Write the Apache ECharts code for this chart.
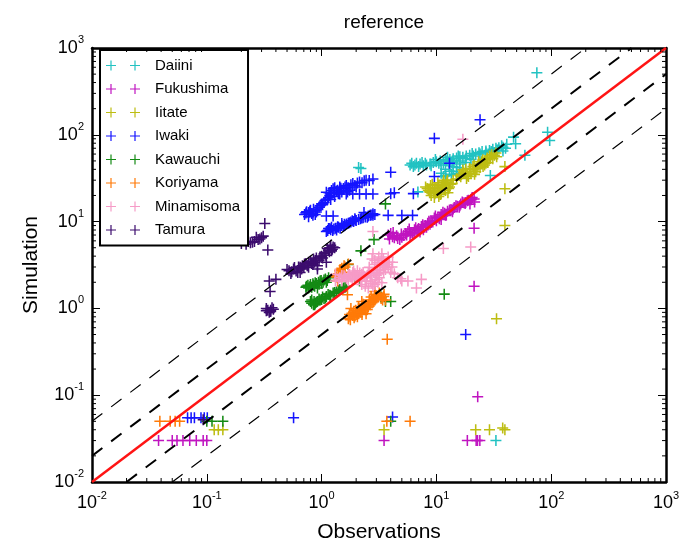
<!DOCTYPE html>
<html>
<head>
<meta charset="utf-8">
<script src="https://cdn.jsdelivr.net/npm/echarts@6/dist/echarts.min.js"></script>
<style>
  html, body { margin: 0; padding: 0; background: #fff; }
  #chart { width: 689px; height: 548px; }
</style>
</head>
<body>
<div id="chart"></div>
<script>
// axis range (log10)
const AX_MIN = 0.01
const AX_MAX = 1000

const siteNames = ['Daiini', 'Fukushima', 'Iitate', 'Iwaki', 'Kawauchi', 'Koriyama', 'Minamisoma', 'Tamura']
const siteColors = ['#22c2c2', '#c014c0', '#bdbd12', '#1414ff', '#148a14', '#ff7a08', '#f69bc7', '#3c0c6e']

// [observation, simulation]
const daiini = [
  [75, 520], [93, 107], [97, 86], [49, 79], [59, 58], [2.1, 42], [2.2, 41], [33, 0.03], [6.9, 22],
  [5.9, 45], [6.7, 47], [7.7, 44], [8.8, 46], [10, 49], [11.5, 47], [13.1, 52], [15, 54], [17, 55], [19.5, 58],
  [22, 60], [25, 64], [29, 66], [33, 70], [38, 72], [41, 78],
  [6.3, 43], [7.2, 46], [8.2, 45], [9.4, 48], [10.8, 50], [12.3, 50], [14, 53], [16, 56], [18.2, 57], [20.5, 61],
  [23.5, 62], [27, 65], [31, 68], [35, 71],
  [11, 36], [12, 40], [13, 45], [14, 38], [15, 42], [16, 50], [12.5, 55], [11.5, 33], [13.5, 35], [17, 40],
  [29.5, 34], [38, 65], [47, 94],
  [6.1, 47], [7.0, 43], [8.0, 47], [9.0, 44], [10.5, 47], [12, 52], [13.8, 50], [15.5, 57], [18, 53], [21, 57],
  [24, 60], [27, 62], [30, 64], [34, 67], [37, 75], [40, 70], [6.5, 45], [7.5, 48], [9.8, 52], [11, 45], [14, 43],
  [16, 46], [18, 48], [20, 52], [13, 38], [15, 36], [12, 34], [14, 48]
]
const fukushima = [
  [21.3, 8.4], [21.3, 1.8], [22.9, 0.096], [3.5, 0.03], [18.6, 0.03], [22.2, 0.03], [23.9, 0.03], [22.8, 0.03],
  [0.038, 0.03], [0.05, 0.03], [0.055, 0.03], [0.062, 0.03], [0.071, 0.03], [0.081, 0.03], [0.093, 0.03], [0.1, 0.03],
  [3.8, 7.0], [4.15, 6.7], [4.5, 6.85], [4.95, 7.2], [5.65, 7.7], [6.45, 8.05], [7.4, 8.8], [8.4, 9.6], [9.6, 11],
  [11, 12.1], [12.5, 13.2], [14.3, 14.5], [16.3, 15.9], [18.6, 17.4], [21.3, 18.2], [19.6, 15.9], [4.3, 6.5],
  [7.7, 8.05], [11, 10.6], [4.0, 7.3], [5.2, 6.9], [6.0, 7.5], [7.0, 8.3], [8.0, 9.0], [9.0, 10], [10.3, 11.2],
  [11.8, 12.5], [13.4, 13.8], [15.2, 15], [17.4, 16.5], [20, 17.8], [3.9, 6.3], [5.4, 7.3], [6.8, 7.9], [8.8, 9.3],
  [10, 10.2], [12, 11.8], [14, 14], [16, 15.2], [18, 16.6], [20.5, 19],
  [4.2, 7.5], [4.6, 6.4], [5.0, 6.6], [5.5, 7.0], [5.8, 8.2], [6.2, 7.2], [6.6, 8.5], [7.2, 7.6], [7.6, 9.2],
  [8.2, 8.6], [8.6, 10.1], [9.3, 9.9], [9.8, 11.6], [10.6, 10.8], [11.4, 12.8], [12.2, 11.9], [13, 13.6],
  [13.8, 13], [14.8, 15.2], [15.8, 14.6], [16.8, 16.8], [17.8, 16.2], [19, 17.6], [20.2, 18.2], [21.5, 16.8],
  [4.8, 6.2], [5.9, 6.9], [6.4, 7.4]
]
const iitate = [
  [39.5, 43], [39.5, 23.9], [39.5, 9.0], [33.4, 0.76], [3.5, 0.04], [22, 0.04], [29, 0.04], [37.8, 0.042],
  [39.5, 0.04], [0.116, 0.04], [0.126, 0.04], [0.138, 0.04],
  [8.05, 25], [8.8, 21.8], [9.6, 23.9], [10.5, 26], [11.5, 28.6], [12.5, 30], [13.7, 27.4], [11, 20.8], [9.6, 19],
  [12, 22.8], [13, 25], [8.5, 23], [9.2, 27], [10.2, 22], [11, 25], [12, 26.5], [14, 30], [9, 20], [10.5, 19.5],
  [12.8, 24], [8.3, 24], [8.9, 26], [9.4, 22], [9.9, 24.5], [10.3, 28], [10.8, 23], [11.3, 26.8], [11.8, 24],
  [12.3, 28.5], [12.6, 21.5], [13.3, 27], [9.7, 21], [10.8, 20.5], [8.7, 22.5], [11.6, 30],
  [16.3, 32.8], [17.8, 35.9], [19.5, 41], [21.3, 45], [23.3, 49], [25.4, 51.6], [27.7, 54], [30.3, 59], [33, 61.8],
  [18.3, 31.3], [22, 37.6], [17, 39.3], [26.3, 45], [15, 31], [20, 36], [24, 42], [28, 48], [31, 53], [19, 33],
  [21, 40], [16.5, 35], [29, 57], [25, 46], [16, 34], [17.2, 37], [18.5, 34], [19.8, 38], [20.8, 43], [22.5, 41],
  [23.8, 46], [24.8, 49], [26.5, 50], [27.5, 52], [29.5, 55], [32, 58], [33.5, 56], [18, 40], [21.5, 35],
  [23, 44], [25.5, 43], [27, 47]
]
const iwaki = [
  [9.6, 91], [24, 149], [13, 47], [9.6, 33], [4, 37], [4, 21], [4.3, 21.5], [6.3, 21], [2.8, 11.8], [3.8, 11.8],
  [5.0, 11.8], [6.2, 11.8], [18, 0.5], [0.57, 0.055], [4.15, 0.056], [0.068, 0.055], [0.078, 0.055], [0.089, 0.055],
  [0.101, 0.055], [0.073, 0.055], [0.095, 0.055],
  [0.71, 12.1], [0.77, 12.7], [0.85, 13.9], [0.77, 11.4], [0.88, 12.1], [0.97, 15.2], [1.05, 16.6], [1.15, 19],
  [1.1, 21.8], [1.26, 23.9], [1.44, 25], [1.64, 26], [1.87, 27.4], [2.14, 28.6], [2.44, 30], [2.8, 31],
  [1.44, 20.8], [1.64, 20.8], [1.87, 20.8], [2.14, 20.8], [2.44, 20.8], [2.8, 20.8], [1.2, 21], [1.3, 19.5],
  [1.1, 11.6], [1.26, 11.6], [0.74, 13], [0.82, 12.4], [0.92, 14], [1.0, 16], [1.2, 18], [1.35, 22.5], [1.55, 24],
  [1.75, 23], [2.0, 25], [1.3, 24.5], [1.5, 22], [0.8, 13.5], [0.9, 12.9],
  [0.73, 12.6], [0.79, 13.2], [0.84, 11.8], [0.9, 13.5], [0.95, 14.6], [1.02, 15.6], [1.08, 17.6], [1.13, 18.2],
  [1.18, 20], [1.22, 22.8], [1.28, 21.5], [1.38, 23], [1.47, 24.2], [1.6, 25], [1.7, 24.5], [1.8, 26.5],
  [1.95, 26], [2.05, 27.8], [2.25, 28], [2.35, 29.5], [2.6, 29.8], [1.68, 22], [1.4, 21], [1.16, 21.5],
  [1.1, 7.7], [1.2, 8.05], [1.32, 8.4], [1.5, 9], [1.71, 9.6], [1.96, 10.4], [2.24, 11], [2.55, 11.6], [2.91, 12.1],
  [2.34, 12.7], [1.25, 7.9], [1.4, 8.6], [1.6, 9.1], [1.8, 9.9], [2.1, 10.6], [1.15, 8.3], [1.35, 8.0], [1.55, 8.8],
  [1.9, 10], [2.4, 11.3], [2.7, 11.9], [1.13, 7.9], [1.18, 8.3], [1.28, 8.2], [1.38, 8.7], [1.45, 8.4],
  [1.58, 9.3], [1.65, 9.4], [1.75, 9.7], [1.85, 10.2], [2.0, 10.3], [2.18, 10.8], [2.3, 11.1], [2.5, 11.2],
  [2.65, 11.8], [2.8, 12.3], [1.22, 8.6], [1.5, 9.5], [1.95, 10.8]
]
const kawauchi = [
  [3.6, 16], [2.86, 6.2], [2.2, 4.6], [2.14, 2.07], [4.0, 1.2], [11.7, 1.46], [0.138, 0.05], [0.1, 0.05],
  [0.111, 0.05], [4.0, 0.05], [1.7, 3.2], [3.3, 1.35], [3.6, 1.2],
  [0.74, 1.8], [0.8, 1.89], [0.88, 1.97], [0.97, 2.07], [1.05, 2.12], [1.15, 2.26], [0.77, 1.72], [0.92, 1.72],
  [0.85, 1.85], [1.0, 1.95], [1.1, 2.0], [0.82, 1.75], [0.95, 1.9], [0.76, 1.85], [0.79, 1.78], [0.84, 1.92],
  [0.87, 1.8], [0.9, 1.93], [0.94, 2.0], [0.99, 2.1], [1.03, 2.0], [1.08, 2.18], [1.12, 2.1], [0.73, 1.75],
  [0.8, 1.2], [0.88, 1.15], [0.97, 1.25], [1.1, 1.37], [1.26, 1.5], [1.44, 1.65], [1.64, 1.8], [0.85, 1.1],
  [0.92, 1.2], [1.05, 1.3], [1.18, 1.42], [1.35, 1.55], [1.55, 1.72], [0.82, 1.25], [0.82, 1.15], [0.86, 1.2],
  [0.9, 1.18], [0.95, 1.28], [1.0, 1.27], [1.02, 1.35], [1.08, 1.32], [1.14, 1.45], [1.2, 1.4], [1.3, 1.52],
  [1.4, 1.6], [1.5, 1.66], [1.6, 1.75], [0.87, 1.1]
]
const koriyama = [
  [3.73, 0.44], [1.68, 1.44], [5.9, 0.05], [3.7, 0.05], [0.039, 0.05], [0.048, 0.05], [0.053, 0.05], [0.058, 0.05],
  [1.71, 0.76], [1.87, 0.83], [2.05, 0.91], [2.24, 1.0], [2.44, 1.09], [2.67, 1.2], [2.91, 1.31], [3.18, 1.5],
  [3.47, 1.37], [3.6, 1.25], [1.8, 1.0], [2.05, 0.8], [2.44, 0.87], [2.24, 1.2], [2.91, 1.57], [1.9, 0.9],
  [2.15, 0.95], [2.35, 1.05], [2.6, 1.12], [2.8, 1.25], [3.0, 1.4], [3.3, 1.3], [2.0, 0.85], [2.5, 0.97],
  [1.75, 0.85], [2.7, 1.35], [1.73, 0.8], [1.78, 0.74], [1.84, 0.88], [1.95, 0.82], [1.98, 0.95], [2.1, 0.87],
  [2.2, 0.9], [2.3, 0.98], [2.4, 1.0], [2.55, 1.04], [2.65, 1.1], [2.75, 1.16], [2.85, 1.2], [2.95, 1.28],
  [3.1, 1.35], [3.2, 1.45], [3.4, 1.25], [2.3, 1.12], [2.1, 1.05], [2.6, 1.25], [2.9, 1.45], [3.5, 1.45],
  [1.92, 0.78], [2.25, 0.85],
  [1.32, 2.37], [1.44, 2.71], [1.57, 3.1], [1.71, 3.25], [1.38, 2.07], [1.5, 2.9], [1.4, 2.5], [1.45, 2.8],
  [1.6, 3.0], [1.35, 2.3], [1.55, 2.6]
]
const minamisoma = [
  [17, 89], [2.8, 7.7], [11.5, 4.9], [19.9, 5.1], [7.4, 2.16], [6.7, 1.72], [5.65, 2.07], [4.9, 2.2],
  [1.32, 2.07], [1.44, 2.26], [1.57, 2.37], [1.71, 2.48], [1.87, 2.59], [2.05, 2.71], [2.24, 2.48], [2.44, 2.26],
  [2.67, 2.07], [2.91, 1.89], [3.18, 2.26], [3.47, 2.59], [3.8, 2.97], [4.15, 3.4], [3.8, 3.9], [3.35, 4.27],
  [2.91, 3.56], [2.6, 2.97], [2.8, 4.27], [1.32, 2.48], [1.5, 2.07], [1.71, 2.07], [1.96, 2.16], [2.24, 1.89],
  [2.55, 1.72], [4.6, 2.26], [5.0, 2.07], [3.05, 2.71], [3.35, 1.97], [1.6, 2.3], [1.8, 2.3], [2.0, 2.4],
  [2.3, 2.6], [2.7, 2.5], [3.0, 2.4], [3.2, 3.0], [3.5, 3.3], [3.9, 3.4], [2.1, 2.2], [2.5, 2.4], [3.6, 2.8],
  [4.0, 2.6], [2.9, 3.2], [1.4, 2.15], [1.5, 2.4], [1.65, 2.2], [1.75, 2.45], [1.85, 2.15], [1.95, 2.5],
  [2.05, 2.3], [2.15, 2.55], [2.2, 2.1], [2.35, 2.35], [2.45, 2.05], [2.55, 2.55], [2.65, 2.3], [2.75, 1.95],
  [2.85, 2.6], [2.95, 2.15], [3.1, 2.5], [3.25, 2.8], [3.4, 3.1], [3.55, 2.95], [3.7, 3.2], [3.3, 3.6],
  [3.05, 3.35], [3.15, 3.9], [2.75, 3.7], [3.45, 3.75], [4.1, 3.0], [4.3, 2.5], [2.4, 1.8], [2.8, 1.8],
  [3.1, 2.0], [1.9, 2.7]
]
const tamura = [
  [0.32, 9.5], [0.34, 4.7], [0.31, 6.8], [0.28, 6.2], [0.26, 5.9], [0.24, 5.7], [0.22, 5.5], [0.2, 5.6],
  [0.3, 6.5], [0.27, 6.6], [0.35, 2.07], [0.356, 1.57], [0.4, 2.16], [0.36, 0.955], [0.33, 1.0], [0.38, 0.98],
  [0.35, 0.9], [0.34, 0.95], [0.093, 0.052], [0.36, 0.92], [0.37, 1.02], [0.33, 0.94], [0.25, 5.8], [0.23, 5.9],
  [0.29, 6.3],
  [0.52, 2.71], [0.57, 2.84], [0.65, 2.97], [0.71, 3.25], [0.77, 3.4], [0.88, 3.56], [0.97, 3.9], [1.05, 4.27],
  [1.15, 4.67], [1.26, 5.1], [1.2, 5.35], [0.54, 2.52], [0.65, 2.59], [0.77, 2.97], [0.92, 3.1], [0.92, 2.84],
  [1.1, 3.4], [0.6, 2.7], [0.68, 3.1], [0.82, 3.3], [1.0, 4.0], [1.12, 4.9], [1.22, 4.6], [0.5, 2.8], [0.85, 3.7],
  [1.3, 5.0], [0.55, 2.65], [0.58, 2.95], [0.62, 2.6], [0.63, 3.0], [0.67, 2.85], [0.7, 3.0], [0.73, 3.3],
  [0.75, 3.1], [0.8, 3.5], [0.84, 3.2], [0.87, 3.4], [0.9, 3.8], [0.95, 3.6], [1.02, 3.8], [1.07, 4.4],
  [1.09, 4.1], [1.17, 4.5], [1.19, 5.0], [1.24, 4.8]
]
const siteData = [daiini, fukushima, iitate, iwaki, kawauchi, koriyama, minamisoma, tamura]

// reference lines: sim = k * obs
const thickRatios = [2, 0.5]
const thinRatios = [5, 0.2]
const decadeExps = [-2, -1, 0, 1, 2]
const minorMults = [2, 3, 4, 5, 6, 7, 8, 9]

const FONT = 'Liberation Sans, Arial, sans-serif'
const PLUS = 'path://M0,4.3H10V5.7H0Z M4.3,0H5.7V10H4.3Z'
const PLUS2 = 'path://M0,4.4H10V5.6H0Z M4.4,0H5.6V10H4.4Z M24,4.4H34V5.6H24Z M28.4,0H29.6V10H28.4Z'

const ratioLine = k => k >= 1
  ? [[AX_MIN, AX_MIN * k], [AX_MAX / k, AX_MAX]]
  : [[AX_MIN / k, AX_MIN], [AX_MAX, AX_MAX * k]]

const minorVals = []
decadeExps.forEach(e => minorMults.forEach(m => minorVals.push(m * Math.pow(10, e))))

const expLabel = v => '{b|10}{s|' + Math.round(Math.log10(v)) + '}'
const labelRich = {
  b: { fontSize: 18, fontFamily: FONT, color: '#000', lineHeight: 27 },
  s: { fontSize: 11, fontFamily: FONT, color: '#000', verticalAlign: 'top', lineHeight: 12 }
}

const baseAxis = {
  type: 'log', logBase: 10, min: AX_MIN, max: AX_MAX, splitNumber: 5,
  splitLine: { show: false },
  axisLine: { show: true, lineStyle: { color: '#000', width: 2.5 } },
  axisTick: { show: true, inside: true, length: 8, lineStyle: { color: '#000', width: 1 } }
}

const chart = echarts.init(document.getElementById('chart'), null, { renderer: 'canvas' })

const series = []
siteNames.forEach((name, i) => {
  series.push({
    name, type: 'scatter', data: siteData[i],
    symbol: PLUS, symbolSize: 11,
    itemStyle: { color: siteColors[i], opacity: 1 },
    z: 2
  })
})
thickRatios.concat(thinRatios).forEach((k, i) => {
  series.push({
    type: 'line', data: ratioLine(k), symbol: 'none', silent: true, z: 3,
    lineStyle: { color: '#000', width: i < 2 ? 2 : 1.2, type: [13, 11] }
  })
})
series.push({
  type: 'line', data: ratioLine(1), symbol: 'none', silent: true, z: 3,
  lineStyle: { color: '#ff1414', width: 2.5 }
})
// minor ticks on all four sides
series.push({
  type: 'custom', silent: true, z: 5, clip: false,
  data: minorVals.map(v => [v, 1]),
  renderItem: (params, api) => {
    const cs = params.coordSys
    const x = api.coord([api.value(0), 1])[0]
    const st = { stroke: '#000', lineWidth: 1 }
    return { type: 'group', children: [
      { type: 'line', shape: { x1: x, y1: cs.y + cs.height, x2: x, y2: cs.y + cs.height - 4 }, style: st },
      { type: 'line', shape: { x1: x, y1: cs.y, x2: x, y2: cs.y + 4 }, style: st }
    ] }
  }
})
series.push({
  type: 'custom', silent: true, z: 5, clip: false,
  data: minorVals.map(v => [1, v]),
  renderItem: (params, api) => {
    const cs = params.coordSys
    const y = api.coord([1, api.value(1)])[1]
    const st = { stroke: '#000', lineWidth: 1 }
    return { type: 'group', children: [
      { type: 'line', shape: { x1: cs.x, y1: y, x2: cs.x + 4, y2: y }, style: st },
      { type: 'line', shape: { x1: cs.x + cs.width, y1: y, x2: cs.x + cs.width - 4, y2: y }, style: st }
    ] }
  }
})

chart.setOption({
  animation: false,
  backgroundColor: '#fff',
  title: {
    text: 'reference', left: 379, top: 8, textAlign: 'center',
    textStyle: { fontSize: 19, fontWeight: 'normal', fontFamily: FONT, color: '#000' }
  },
  grid: { left: 92, right: 23, top: 48, bottom: 62 },
  legend: {
    orient: 'vertical', left: 100, top: 50,
    padding: [8, 8, 8, 6], itemGap: 8.5, itemWidth: 34, itemHeight: 10,
    icon: PLUS2, borderColor: '#000', borderWidth: 2, backgroundColor: '#fff',
    textStyle: { fontSize: 15, fontFamily: FONT, color: '#000', padding: [0, 0, 0, 10] },
    data: siteNames
  },
  xAxis: [
    Object.assign({}, baseAxis, {
      position: 'bottom',
      name: 'Observations', nameLocation: 'middle', nameGap: 40,
      nameTextStyle: { fontSize: 21, fontFamily: FONT, color: '#000' },
      axisLabel: { show: true, margin: 8, formatter: expLabel, rich: labelRich, showMinLabel: true, showMaxLabel: true }
    }),
    Object.assign({}, baseAxis, { position: 'top', axisLabel: { show: false } })
  ],
  yAxis: [
    Object.assign({}, baseAxis, {
      position: 'left',
      name: 'Simulation', nameLocation: 'middle', nameGap: 50,
      nameTextStyle: { fontSize: 21, fontFamily: FONT, color: '#000' },
      axisLabel: { show: true, margin: 8, formatter: expLabel, rich: labelRich, showMinLabel: true, showMaxLabel: true }
    }),
    Object.assign({}, baseAxis, { position: 'right', axisLabel: { show: false } })
  ],
  series
})
</script>
</body>
</html>
